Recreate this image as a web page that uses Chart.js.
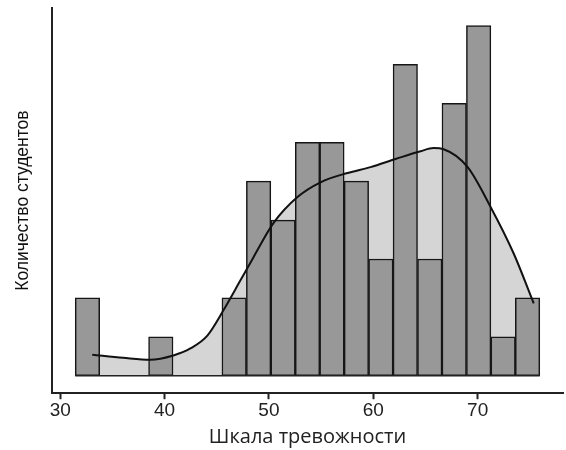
<!DOCTYPE html>
<html>
<head>
<meta charset="utf-8">
<script src="https://cdn.jsdelivr.net/npm/chart.js@4"></script>
<style>
  html, body { margin: 0; padding: 0; background: #fff; }
  #wrap { width: 566px; height: 450px; }
</style>
</head>
<body>
<div id="wrap"><canvas id="chart"></canvas></div>
<script>
// histogram bins (left edge of first bin, bin width) and counts
const binStart = 31.44;
const binWidth = 2.3426;
const counts = [2, 0, 0, 1, 0, 0, 2, 5, 4, 6, 6, 5, 3, 8, 3, 7, 9, 1, 2];

// density curve, scaled to counts
const curveX = [33.07, 36.04, 38.63, 40.84, 42.47, 44.10, 45.64, 47.27, 48.51, 50.43, 52.73, 54.94, 57.53, 59.74, 62.13, 64.53, 65.78, 66.74, 69.04, 71.25, 73.45, 75.37];
const curveY = [0.54, 0.46, 0.41, 0.52, 0.70, 1.03, 1.68, 2.45, 3.04, 3.92, 4.59, 4.97, 5.21, 5.36, 5.57, 5.77, 5.85, 5.82, 5.36, 4.33, 3.14, 1.86];

const xTicks = [30, 40, 50, 60, 70];

const binEnd = binStart + binWidth * counts.length;
const xPad = (binEnd - binStart) * 0.05;
const yMaxCount = Math.max(...counts);
const yPad = yMaxCount * 0.05;

const barData = counts.map((c, i) => ({ x: binStart + binWidth * (i + 0.5), y: c }));
const curveData = curveX.map((x, i) => ({ x: x, y: curveY[i] }));

new Chart(document.getElementById('chart'), {
  type: 'bar',
  data: {
    datasets: [
      {
        type: 'line',
        data: curveData,
        borderColor: '#111',
        borderWidth: 2,
        backgroundColor: '#d5d5d5',
        fill: 'origin',
        pointRadius: 0,
        cubicInterpolationMode: 'monotone',
        order: 0
      },
      {
        type: 'line',
        data: [{ x: binStart, y: 0 }, { x: binEnd, y: 0 }],
        borderColor: '#222',
        borderWidth: 1.5,
        pointRadius: 0,
        fill: false,
        order: 1
      },
      {
        data: barData,
        backgroundColor: '#989898',
        borderColor: '#161616',
        borderWidth: 1.5,
        borderSkipped: false,
        barPercentage: 1,
        categoryPercentage: 1,
        order: 2
      }
    ]
  },
  options: {
    responsive: true,
    maintainAspectRatio: false,
    animation: false,
    layout: { padding: { top: 8, right: 3, left: 0, bottom: 0 } },
    plugins: {
      legend: { display: false },
      tooltip: { enabled: false },
      filler: { drawTime: 'beforeDatasetsDraw' }
    },
    scales: {
      x: {
        type: 'linear',
        offset: false,
        min: binStart - xPad,
        max: binEnd + xPad,
        afterBuildTicks: axis => { axis.ticks = xTicks.map(v => ({ value: v })); },
        ticks: {
          color: '#222',
          padding: 0,
          font: { family: 'Liberation Sans', size: 19 }
        },
        grid: {
          offset: false,
          drawOnChartArea: false,
          drawTicks: true,
          tickLength: 6,
          tickWidth: 2,
          tickColor: '#222'
        },
        border: { display: true, color: '#222', width: 2 },
        title: {
          display: true,
          text: 'Шкала тревожности',
          color: '#222',
          font: { family: 'Open Sans', size: 20 },
          padding: { top: 3, bottom: 1 }
        }
      },
      y: {
        min: -yPad,
        max: yMaxCount + yPad,
        ticks: { display: false },
        grid: { display: false, drawTicks: false },
        border: { display: true, color: '#222', width: 2 },
        title: {
          display: true,
          text: 'Количество студентов',
          color: '#111',
          font: { family: 'Liberation Sans', size: 17.5 },
          padding: { top: 13, bottom: 18 }
        }
      }
    }
  }
});
</script>
</body>
</html>
